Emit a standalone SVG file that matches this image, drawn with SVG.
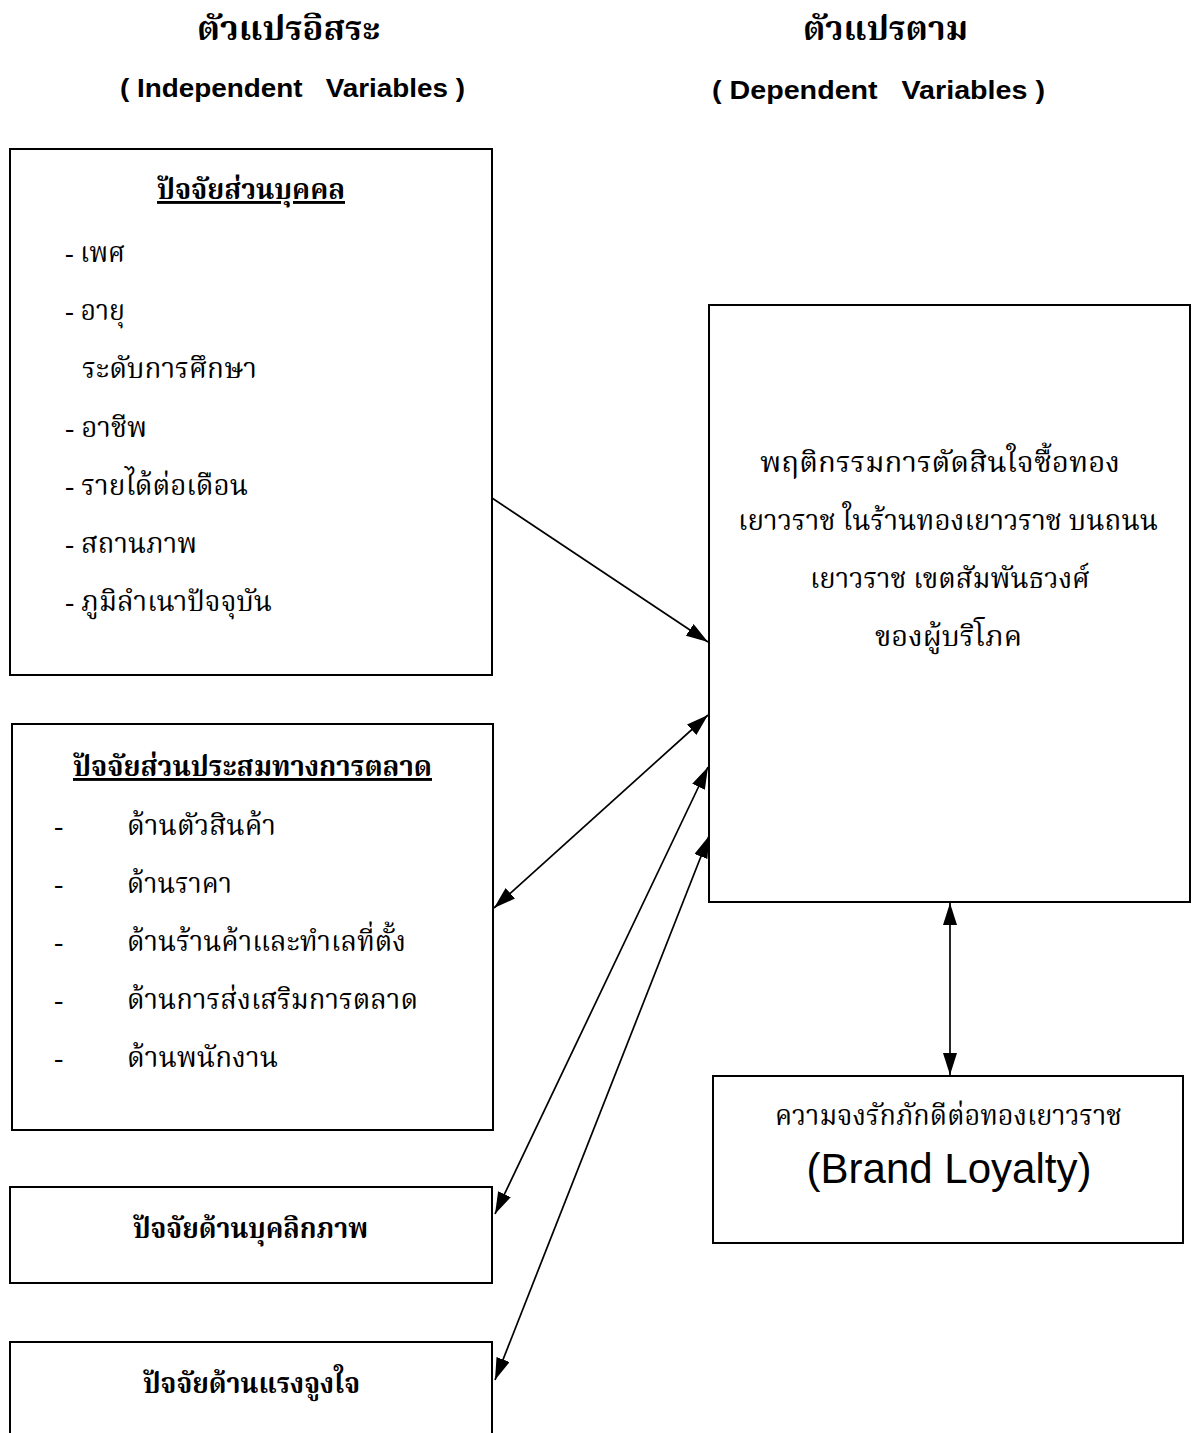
<svg xmlns="http://www.w3.org/2000/svg" width="1195" height="1433" viewBox="0 0 1195 1433">
<defs>
<style>
.box{fill:#fff;stroke:#000;stroke-width:2}
.th{font-family:"Liberation Serif","Noto Serif Thai","Noto Sans Thai","Norasi","Loma","Garuda","Noto Sans CJK SC",serif;fill:#000}
.thb{font-family:"Liberation Serif","Noto Serif Thai","Noto Sans Thai","Norasi","Loma","Garuda","Noto Sans CJK SC",serif;font-weight:bold;fill:#000}
.en{font-family:"Liberation Sans Narrow","Liberation Sans",Arial,sans-serif;font-weight:bold;fill:#000}
.it{font-size:28px}
.con{stroke:#000;stroke-width:1.7;fill:none}
</style>
<marker id="ahL" viewBox="0 0 22 14" refX="22" refY="7" markerWidth="22" markerHeight="14" markerUnits="userSpaceOnUse" orient="auto-start-reverse">
<path d="M0,0 L22,7 L0,14 Z" fill="#000"/>
</marker>
</defs>
<rect width="1195" height="1433" fill="#fff"/>

<g id="headers">
<text class="thb" x="197" y="40" font-size="33" textLength="183" lengthAdjust="spacingAndGlyphs">ตัวแปรอิสระ</text>
<text class="en" x="120" y="97" font-size="26" textLength="345" lengthAdjust="spacingAndGlyphs" xml:space="preserve">( Independent   Variables )</text>
<text class="thb" x="803" y="40" font-size="33" textLength="165" lengthAdjust="spacingAndGlyphs">ตัวแปรตาม</text>
<text class="en" x="712" y="99" font-size="26" textLength="333" lengthAdjust="spacingAndGlyphs" xml:space="preserve">( Dependent   Variables )</text>
</g>

<g id="personal">
<rect class="box" x="10" y="149" width="482" height="526"/>
<text class="thb" x="157" y="199" font-size="29" text-decoration="underline" textLength="188" lengthAdjust="spacingAndGlyphs">ปัจจัยส่วนบุคคล</text>
<text class="th it" x="65" y="262" textLength="60" lengthAdjust="spacingAndGlyphs">- เพศ</text>
<text class="th it" x="65" y="320" textLength="60" lengthAdjust="spacingAndGlyphs">- อายุ</text>
<text class="th it" x="82" y="378" textLength="175" lengthAdjust="spacingAndGlyphs">ระดับการศึกษา</text>
<text class="th it" x="65" y="437" textLength="82" lengthAdjust="spacingAndGlyphs">- อาชีพ</text>
<text class="th it" x="65" y="495" textLength="183" lengthAdjust="spacingAndGlyphs">- รายได้ต่อเดือน</text>
<text class="th it" x="65" y="553" textLength="132" lengthAdjust="spacingAndGlyphs">- สถานภาพ</text>
<text class="th it" x="65" y="611" textLength="207" lengthAdjust="spacingAndGlyphs">- ภูมิลำเนาปัจจุบัน</text>
</g>

<g id="marketing-mix">
<rect class="box" x="12" y="724" width="481" height="406"/>
<text class="thb" x="73" y="776" font-size="29" text-decoration="underline" textLength="359" lengthAdjust="spacingAndGlyphs">ปัจจัยส่วนประสมทางการตลาด</text>
<text class="th it" x="54" y="835">-</text>
<text class="th it" x="127" y="835" textLength="149" lengthAdjust="spacingAndGlyphs">ด้านตัวสินค้า</text>
<text class="th it" x="54" y="893">-</text>
<text class="th it" x="127" y="893" textLength="105" lengthAdjust="spacingAndGlyphs">ด้านราคา</text>
<text class="th it" x="54" y="951">-</text>
<text class="th it" x="127" y="951" textLength="279" lengthAdjust="spacingAndGlyphs">ด้านร้านค้าและทำเลที่ตั้ง</text>
<text class="th it" x="54" y="1009">-</text>
<text class="th it" x="127" y="1009" textLength="291" lengthAdjust="spacingAndGlyphs">ด้านการส่งเสริมการตลาด</text>
<text class="th it" x="54" y="1067">-</text>
<text class="th it" x="127" y="1067" textLength="151" lengthAdjust="spacingAndGlyphs">ด้านพนักงาน</text>
</g>

<g id="personality">
<rect class="box" x="10" y="1187" width="482" height="96"/>
<text class="thb" x="133" y="1238" font-size="29" textLength="235" lengthAdjust="spacingAndGlyphs">ปัจจัยด้านบุคลิกภาพ</text>
</g>

<g id="motivation">
<rect class="box" x="10" y="1342" width="482" height="100"/>
<text class="thb" x="143" y="1393" font-size="29" textLength="217" lengthAdjust="spacingAndGlyphs">ปัจจัยด้านแรงจูงใจ</text>
</g>

<g id="behavior">
<rect class="box" x="709" y="305" width="481" height="597"/>
<text class="th it" x="760" y="472" textLength="360" lengthAdjust="spacingAndGlyphs">พฤติกรรมการตัดสินใจซื้อทอง</text>
<text class="th it" x="738" y="530" textLength="420" lengthAdjust="spacingAndGlyphs">เยาวราช ในร้านทองเยาวราช บนถนน</text>
<text class="th it" x="810" y="588" textLength="280" lengthAdjust="spacingAndGlyphs">เยาวราช เขตสัมพันธวงศ์</text>
<text class="th it" x="875" y="646" textLength="147" lengthAdjust="spacingAndGlyphs">ของผู้บริโภค</text>
</g>

<g id="loyalty">
<rect class="box" x="713" y="1076" width="470" height="167"/>
<text class="th it" x="775" y="1125" textLength="347" lengthAdjust="spacingAndGlyphs">ความจงรักภักดีต่อทองเยาวราช</text>
<text x="949" y="1183" font-family="'Liberation Sans',Arial,sans-serif" font-size="42" text-anchor="middle" fill="#000">(Brand Loyalty)</text>
</g>

<g id="connectors">
<line class="con" x1="492" y1="498" x2="708" y2="642" marker-end="url(#ahL)"/>
<line class="con" x1="494" y1="908" x2="708" y2="715" marker-start="url(#ahL)" marker-end="url(#ahL)"/>
<line class="con" x1="495" y1="1214" x2="708" y2="767" marker-start="url(#ahL)" marker-end="url(#ahL)"/>
<line class="con" x1="495" y1="1380" x2="709" y2="836" marker-start="url(#ahL)" marker-end="url(#ahL)"/>
<line class="con" x1="950" y1="903" x2="950" y2="1075" marker-start="url(#ahL)" marker-end="url(#ahL)"/>
</g>
</svg>
